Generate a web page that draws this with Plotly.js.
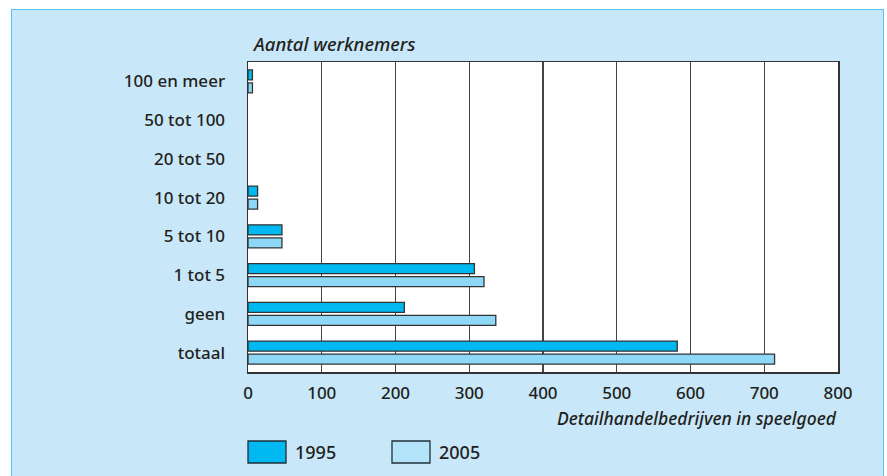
<!DOCTYPE html>
<html>
<head>
<meta charset="utf-8">
<script src="https://cdn.plot.ly/plotly-3.0.1.min.js"></script>
<style>
  html, body { margin: 0; padding: 0; background: #ffffff; }
  #frame { position: absolute; left: 11px; top: 9px; width: 871px; height: 480px;
           background: #c8e8f9; border: 1.5px solid #55c3ef; }
  #chart { position: absolute; left: 0; top: 0; width: 887px; height: 476px; }
</style>
</head>
<body>
<div id="frame"></div>
<div id="chart"></div>
<script>
const categories = ['totaal', 'geen', '1 tot 5', '5 tot 10', '10 tot 20', '20 tot 50', '50 tot 100', '100 en meer'];
const seriesNames = ['1995', '2005'];
const values1995 = [582, 212, 307, 46, 13, 0, 0, 6];
const values2005 = [714, 336, 320, 46, 13, 0, 0, 6];
const xTicks = [0, 100, 200, 300, 400, 500, 600, 700, 800];
const yTitle = 'Aantal werknemers';
const xTitle = 'Detailhandelbedrijven in speelgoed';

const colors = { '1995': '#00b9f1', '2005': '#8fd7f7' };
const legendColors = { '1995': '#00b9f1', '2005': '#b2e3f9' };
const fontFam = '"Noto Sans", "Open Sans", sans-serif';
const textColor = '#231f20';
const fontWeight = 500;

// outline hidden where a bar has no length
const outlineWidths = vals => vals.map(v => (v > 0 ? 1.3 : 0));

// 2005 trace first so that 1995 sits on top within each group
const traces = [
  { type: 'bar', orientation: 'h', name: seriesNames[1], y: categories, x: values2005,
    marker: { color: colors['2005'], line: { color: '#333333', width: outlineWidths(values2005) } }, showlegend: false },
  { type: 'bar', orientation: 'h', name: seriesNames[0], y: categories, x: values1995,
    marker: { color: colors['1995'], line: { color: '#333333', width: outlineWidths(values1995) } }, showlegend: false }
];

const L = 248, R = 838, T = 62, B = 372, W = 887, H = 476;
const px = v => (v - L) / (R - L);
const py = v => (B - v) / (B - T);

const shapes = [];
const annotations = [
  { text: '<i>' + yTitle + '</i>', xref: 'paper', yref: 'paper', x: px(250), y: py(43),
    xanchor: 'left', yanchor: 'middle', showarrow: false,
    font: { family: fontFam, size: 18.5, color: textColor, weight: fontWeight } },
  { text: '<i>' + xTitle + '</i>', xref: 'paper', yref: 'paper', x: px(839), y: py(418),
    xanchor: 'right', yanchor: 'middle', showarrow: false,
    font: { family: fontFam, size: 17.5, color: textColor, weight: fontWeight } }
];
const legendX = [248, 392];
seriesNames.forEach((n, i) => {
  shapes.push({ type: 'rect', xref: 'paper', yref: 'paper',
    x0: px(legendX[i]), x1: px(legendX[i] + 38), y0: py(463), y1: py(441),
    fillcolor: legendColors[n], line: { color: '#1f2f3a', width: 1.3 } });
  annotations.push({ text: n, xref: 'paper', yref: 'paper', x: px(legendX[i] + 45), y: py(452),
    xanchor: 'left', yanchor: 'middle', showarrow: false,
    font: { family: fontFam, size: 18, color: textColor, weight: fontWeight } });
});

const layout = {
  width: W, height: H,
  margin: { l: L, r: W - R, t: T, b: H - B, pad: 0 },
  paper_bgcolor: 'rgba(0,0,0,0)',
  plot_bgcolor: '#ffffff',
  barmode: 'group',
  bargap: 0.33,
  bargroupgap: 0.22,
  showlegend: false,
  font: { family: fontFam, size: 17, color: textColor, weight: fontWeight },
  xaxis: {
    range: [0, 800], tickvals: xTicks, ticktext: xTicks.map(String),
    showgrid: true, gridcolor: '#444444', gridwidth: 1.2,
    showline: true, linecolor: '#333333', linewidth: 1.5, mirror: true,
    ticks: '', ticklabelstandoff: 5, zeroline: false,
    tickfont: { family: fontFam, size: 17, color: textColor, weight: fontWeight }
  },
  yaxis: {
    type: 'category', categoryorder: 'array', categoryarray: categories,
    range: [-0.5, categories.length - 0.5],
    showgrid: false, showline: true, linecolor: '#333333', linewidth: 1.5, mirror: true,
    ticks: '', ticklabelstandoff: 18,
    tickfont: { family: fontFam, size: 17, color: textColor, weight: fontWeight }
  },
  shapes: shapes,
  annotations: annotations
};

Plotly.newPlot('chart', traces, layout, { displayModeBar: false, staticPlot: true });
</script>
</body>
</html>
